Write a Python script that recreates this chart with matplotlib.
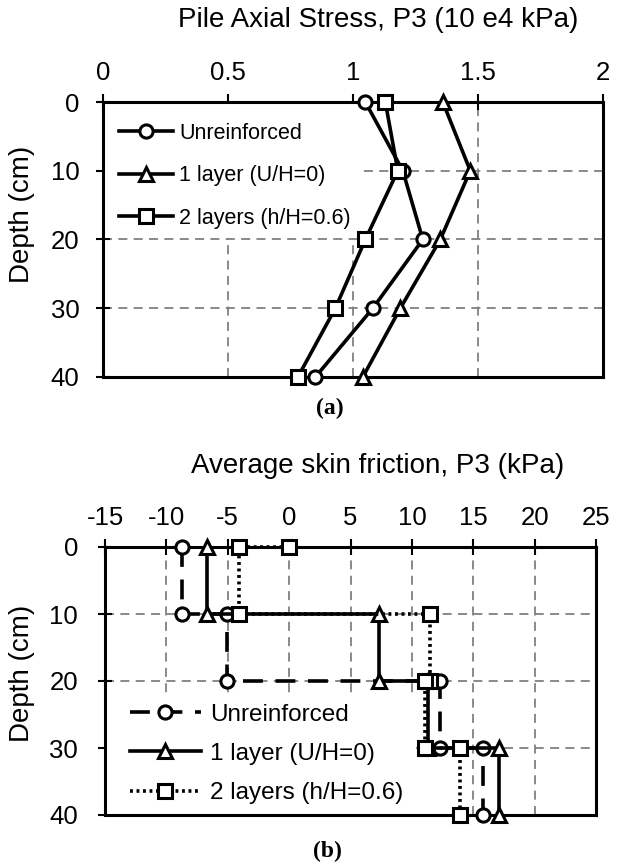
import matplotlib
matplotlib.use("Agg")
import matplotlib.pyplot as plt
from matplotlib.patches import Rectangle

plt.rcParams['font.family'] = ['Liberation Sans', 'DejaVu Sans']

# ---- Pile axial stress (10 e4 kPa) versus depth ----
depth = [0, 10, 20, 30, 40]
stress_unreinforced = [1.05, 1.20, 1.28, 1.08, 0.85]
stress_one_layer = [1.36, 1.47, 1.35, 1.19, 1.04]
stress_two_layers = [1.13, 1.18, 1.05, 0.93, 0.78]

# ---- Average skin friction (kPa), stepped profile over depth ----
sf_depth = [0, 10, 10, 20, 20, 30, 30, 40]
sf_unreinforced = [-8.7, -8.7, -5.1, -5.1, 12.3, 12.3, 15.8, 15.8]
sf_one_layer = [-6.7, -6.7, 7.3, 7.3, 11.3, 11.3, 17.1, 17.1]
sf_two_layers_depth = [0, 0, 10, 10, 20, 20, 30, 30, 40]
sf_two_layers = [0.0, -4.1, -4.1, 11.5, 11.5, 11.1, 11.1, 13.9, 13.9]

labels = ['Unreinforced', '1 layer (U/H=0)', '2 layers (h/H=0.6)']
stress_ticks = [0, 0.5, 1, 1.5, 2]
friction_ticks = [-15, -10, -5, 0, 5, 10, 15, 20, 25]
depth_ticks = [0, 10, 20, 30, 40]

W, H = 630, 863
fig = plt.figure(figsize=(W / 100, H / 100), dpi=100)

def px_axes(left, top, right, bottom):
    return fig.add_axes([left / W, 1 - bottom / H, (right - left) / W, (bottom - top) / H])

ax1 = px_axes(103, 102, 602.7, 377)
ax2 = px_axes(105, 547, 596, 815)

LW = 2.6
MS = 9.5
MEW = 2.2
common = dict(color='black', lw=LW, ms=MS, mew=MEW, mfc='white', mec='black',
              clip_on=False, zorder=4)


def style_axes(ax, xticks, xlim, ypad):
    ax.set_xlim(*xlim)
    ax.set_ylim(40, 0)
    ax.set_xticks(xticks)
    ax.set_yticks(depth_ticks)
    ax.xaxis.set_ticks_position('top')
    ax.xaxis.set_label_position('top')
    ax.tick_params(axis='x', direction='inout', length=11, width=1.5, pad=7,
                   labelsize=18.5, top=True, bottom=False,
                   labeltop=True, labelbottom=False)
    ax.tick_params(axis='y', direction='inout', length=10, width=1.5, pad=ypad,
                   labelsize=18.5, left=True, right=False)
    ax.set_xticklabels([f'{t:g}' for t in xticks])
    ax.grid(True, color='#808080', lw=1.3, ls=(0, (5, 3.5)), zorder=0)
    ax.set_axisbelow(True)
    for s in ax.spines.values():
        s.set_linewidth(2.2)
        s.set_color('black')
        s.set_zorder(3)


# Top panel
style_axes(ax1, stress_ticks, (0, 2), 12)
ax1.add_patch(Rectangle((0, 0), 1.035, 19.8, facecolor='white', edgecolor='none', zorder=1))
l1, = ax1.plot(stress_unreinforced, depth, marker='o', ls='-', **common)
l2, = ax1.plot(stress_one_layer, depth, marker='^', ls='-', **common)
l3, = ax1.plot(stress_two_layers, depth, marker='s', ls='-', **common)
leg1 = ax1.legend([l1, l2, l3], labels, loc='upper left', bbox_to_anchor=(0.032, 0.925),
                  frameon=False, fontsize=15.5, handlelength=2.5, handletextpad=0.3,
                  labelspacing=1.0, borderpad=0, borderaxespad=0)
leg1.set_zorder(5)

# Bottom panel
style_axes(ax2, friction_ticks, (-15, 25), 14.5)
ax2.add_patch(Rectangle((-15, 22.6), 25.3, 17.4, facecolor='white', edgecolor='none', zorder=1))
m1, = ax2.plot(sf_unreinforced, sf_depth, marker='o', ls=(0, (5.5, 3.5)), **common)
m2, = ax2.plot(sf_one_layer, sf_depth, marker='^', ls='-', **common)
m3, = ax2.plot(sf_two_layers, sf_two_layers_depth, marker='s', ls=(0, (0.8, 1.0)), **common)
leg2 = ax2.legend([m1, m2, m3], labels, loc='lower left', bbox_to_anchor=(0.051, 0.041),
                  frameon=False, fontsize=17.5, handlelength=2.9, handletextpad=0.4,
                  labelspacing=0.7, borderpad=0, borderaxespad=0)
leg2.set_zorder(5)

# Axis titles and panel labels
fig.text(378 / W, 1 - 20 / H, 'Pile Axial Stress, P3 (10 e4 kPa)', ha='center', va='center', fontsize=20)
fig.text(378 / W, 1 - 466 / H, 'Average skin friction, P3 (kPa)', ha='center', va='center', fontsize=20)
fig.text(22 / W, 1 - 214 / H, 'Depth (cm)', rotation=90, ha='center', va='center', fontsize=20)
fig.text(22 / W, 1 - 673 / H, 'Depth (cm)', rotation=90, ha='center', va='center', fontsize=20)
fig.text(330 / W, 1 - 408 / H, '(a)', ha='center', va='center', fontsize=17,
         fontweight='bold', family=['Liberation Serif', 'DejaVu Serif'])
fig.text(327 / W, 1 - 851 / H, '(b)', ha='center', va='center', fontsize=17,
         fontweight='bold', family=['Liberation Serif', 'DejaVu Serif'])

fig.savefig('out.png', dpi=100)
